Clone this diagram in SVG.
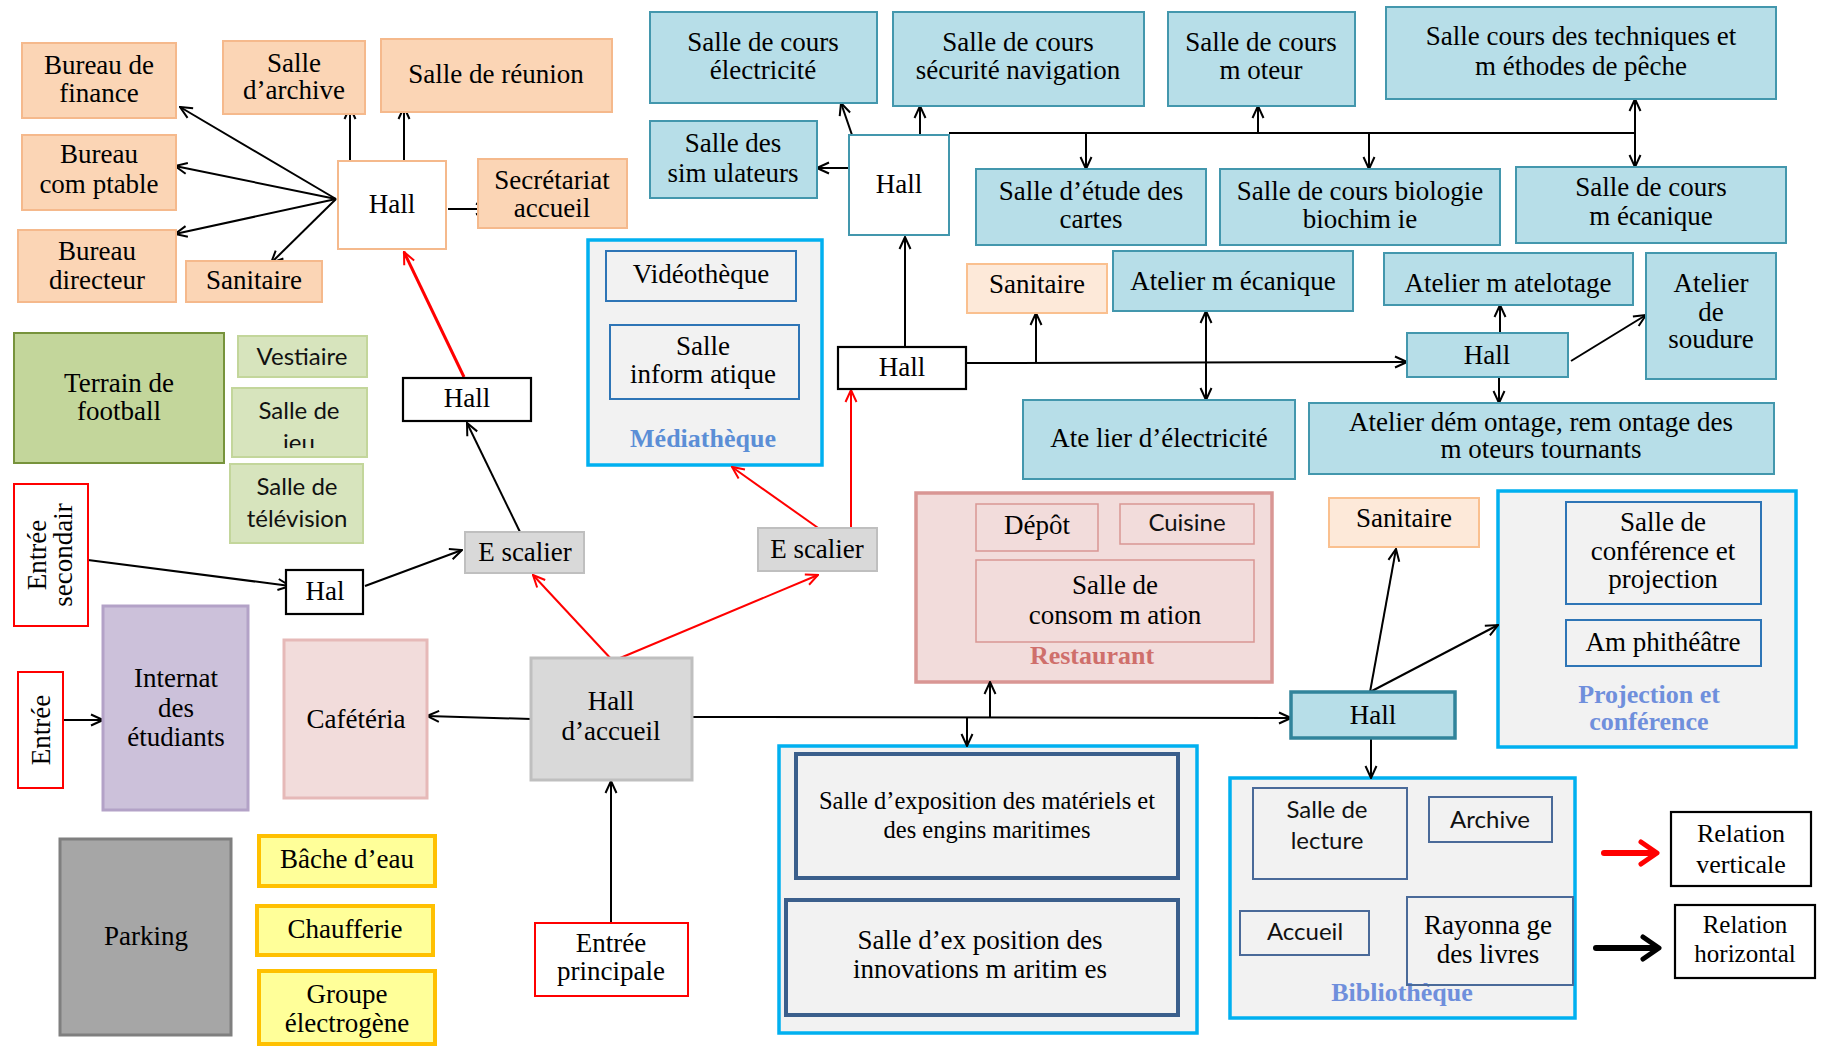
<svg xmlns="http://www.w3.org/2000/svg" width="1821" height="1046" viewBox="0 0 1821 1046">
  <defs>
    <style>
      .t { font-family: "Liberation Serif", "Times New Roman", serif; font-size: 27px; text-anchor: middle; fill: #000; }
      .s { font-family: Lato, "Liberation Sans", sans-serif; font-size: 24px; text-anchor: middle; fill: #111; }
      .g { font-family: "Liberation Serif", "Times New Roman", serif; font-size: 26px; font-weight: bold; text-anchor: middle; }
      .adm { fill: #fbd5b5; stroke: #f5b98c; stroke-width: 2; }
      .san { fill: #fde9d9; stroke: #fac08f; stroke-width: 2; }
      .cls { fill: #b7dee8; stroke: #4397ad; stroke-width: 2; }
      .wb { fill: #fff; stroke: #000; stroke-width: 2.2; }
      .ent { fill: #fff; stroke: #ff0000; stroke-width: 2; }
      .sport { fill: #d7e4bd; stroke: #c3d69b; stroke-width: 2; }
      .esc { fill: #d9d9d9; stroke: #bfbfbf; stroke-width: 2; }
      .tech { fill: #ffff99; stroke: #ffc000; stroke-width: 4; }
      .cont { fill: #f2f2f2; stroke: #00b0f0; stroke-width: 3.5; }
      .inb { fill: #f2f2f2; stroke: #2e75b6; stroke-width: 2; }
      .inl { fill: none; stroke: #4a6a99; stroke-width: 2; }
      .inx { fill: none; stroke: #3b5f8c; stroke-width: 4; }
      .rin { fill: none; stroke: #d99694; stroke-width: 1.5; }
      .c { fill: none; stroke: #000; stroke-width: 2; marker-end: url(#ah); }
      .cd { fill: none; stroke: #000; stroke-width: 2; marker-start: url(#ah); marker-end: url(#ah); }
      .bus { fill: none; stroke: #000; stroke-width: 2; }
      .r { fill: none; stroke: #ff0000; stroke-width: 2; marker-end: url(#ahr); }
      .r3 { stroke-width: 3; }
      .f24 { font-size: 24.5px; }
      .f25 { font-size: 25px; }
      .f26 { font-size: 26px; }
    </style>
    <marker id="ah" viewBox="0 0 14 14" refX="13" refY="7" markerWidth="14" markerHeight="14" markerUnits="userSpaceOnUse" orient="auto-start-reverse">
      <path d="M1,1.5 L13,7 L1,12.5" fill="none" stroke="#000" stroke-width="2"/>
    </marker>
    <marker id="ahr" viewBox="0 0 14 14" refX="13" refY="7" markerWidth="14" markerHeight="14" markerUnits="userSpaceOnUse" orient="auto">
      <path d="M1,1.5 L13,7 L1,12.5" fill="none" stroke="#ff0000" stroke-width="2"/>
    </marker>
    <clipPath id="clipJeu">
      <rect x="232" y="388" width="135" height="60"/>
    </clipPath>
  </defs>

  <rect x="0" y="0" width="1821" height="1046" fill="#fff"/>

  <!-- containers drawn first so inner rooms sit on top -->
  <g id="mediatheque">
    <rect class="cont" x="588" y="240" width="234" height="225"/>
    <text class="g" x="703" y="447" fill="#5b8ed6">Médiathèque</text>
  </g>
  <g id="restaurant">
    <rect x="916" y="493" width="356" height="189" fill="#f2dcdb" stroke="#d99694" stroke-width="3.5"/>
    <text class="g" x="1092" y="664" fill="#cf6f6b">Restaurant</text>
  </g>
  <g id="exposition">
    <rect class="cont" x="779" y="746" width="418" height="287"/>
  </g>
  <g id="projection-conference">
    <rect class="cont" x="1498" y="491" width="298" height="256"/>
    <text class="g" x="1649" y="703" fill="#6f8fdc"><tspan x="1649" y="703">Projection et</tspan><tspan x="1649" y="730">conférence</tspan></text>
  </g>
  <g id="bibliotheque">
    <rect class="cont" x="1230" y="778" width="345" height="240"/>
    <text class="g" x="1402" y="1001" fill="#6f8fdc">Bibliothèque</text>
  </g>

  <!-- connectors -->
  <g id="connectors">
    <!-- administration hall -->
    <path class="c" d="M336,199 L180,107"/>
    <path class="c" d="M336,199 L175,166"/>
    <path class="c" d="M336,199 L175,234"/>
    <path class="c" d="M336,199 L271,263"/>
    <path class="c" d="M350,161 L350,107"/>
    <path class="c" d="M404,161 L404,107"/>
    <path class="c" d="M448,209 L488,209"/>
    <!-- secondary entrance -->
    <path class="c" d="M88,560 L290,586"/>
    <path class="c" d="M365,586 L462,550"/>
    <path class="c" d="M520,532 L467,423"/>
    <!-- main entrance and reception -->
    <path class="c" d="M63,720 L103,720"/>
    <path class="c" d="M531,719 L427,716"/>
    <path class="c" d="M611,923 L611,781"/>
    <path class="c" d="M692,717 L1291,718"/>
    <path class="c" d="M990,717 L990,682"/>
    <path class="c" d="M967,717 L967,746"/>
    <!-- library / conference hall -->
    <path class="c" d="M1370,692 L1396,549"/>
    <path class="c" d="M1370,692 L1498,625"/>
    <path class="c" d="M1371,738 L1371,778"/>
    <!-- workshops -->
    <path class="c" d="M905,347 L905,237"/>
    <path class="c" d="M966,363 L1407,362"/>
    <path class="c" d="M1036,363 L1036,313"/>
    <path class="cd" d="M1206,311 L1206,400"/>
    <path class="c" d="M1500,333 L1500,305"/>
    <path class="c" d="M1571,361 L1646,315"/>
    <path class="c" d="M1499,377 L1499,403"/>
    <!-- classrooms -->
    <path class="c" d="M849,168 L817,168"/>
    <path class="c" d="M852,135 L841,103"/>
    <path class="c" d="M920,135 L920,106"/>
    <path class="bus" d="M949,133 L1635,133"/>
    <path class="c" d="M1258,133 L1258,106"/>
    <path class="c" d="M1086,133 L1086,169"/>
    <path class="c" d="M1369,133 L1369,169"/>
    <path class="cd" d="M1635,99 L1635,167"/>
    <!-- vertical relations (stairs) -->
    <path class="r r3" d="M464,377 L404,252"/>
    <path class="r" d="M613,661 L533,575"/>
    <path class="r" d="M613,661 L818,575"/>
    <path class="r" d="M821,530 L732,467"/>
    <path class="r" d="M851,530 L851,390"/>
  </g>

  <!-- administration -->
  <g id="bureau-finance"><rect class="adm" x="22" y="43" width="154" height="75"/><text class="t"><tspan x="99" y="74">Bureau de</tspan><tspan x="99" y="102">finance</tspan></text></g>
  <g id="salle-archive"><rect class="adm" x="223" y="41" width="142" height="73"/><text class="t"><tspan x="294" y="72">Salle</tspan><tspan x="294" y="99">d’archive</tspan></text></g>
  <g id="salle-reunion"><rect class="adm" x="381" y="39" width="231" height="73"/><text class="t" x="496" y="83">Salle de réunion</text></g>
  <g id="bureau-comptable"><rect class="adm" x="22" y="135" width="154" height="75"/><text class="t"><tspan x="99" y="163">Bureau</tspan><tspan x="99" y="193">com ptable</tspan></text></g>
  <g id="bureau-directeur"><rect class="adm" x="18" y="230" width="158" height="72"/><text class="t"><tspan x="97" y="260">Bureau</tspan><tspan x="97" y="289">directeur</tspan></text></g>
  <g id="sanitaire-admin"><rect class="adm" x="186" y="261" width="136" height="41"/><text class="t" x="254" y="289">Sanitaire</text></g>
  <g id="hall-admin"><rect x="338" y="161" width="108" height="88" fill="#fff" stroke="#f5b98c" stroke-width="2"/><text class="t" x="392" y="213">Hall</text></g>
  <g id="secretariat"><rect class="adm" x="478" y="159" width="149" height="69"/><text class="t"><tspan x="552" y="189">Secrétariat</tspan><tspan x="552" y="217">accueil</tspan></text></g>

  <!-- classrooms -->
  <g id="cours-electricite"><rect class="cls" x="650" y="12" width="227" height="91"/><text class="t"><tspan x="763" y="51">Salle de cours</tspan><tspan x="763" y="79">électricité</tspan></text></g>
  <g id="cours-securite"><rect class="cls" x="893" y="12" width="251" height="94"/><text class="t"><tspan x="1018" y="51">Salle de cours</tspan><tspan x="1018" y="79">sécurité navigation</tspan></text></g>
  <g id="cours-moteur"><rect class="cls" x="1168" y="12" width="187" height="94"/><text class="t"><tspan x="1261" y="51">Salle de cours</tspan><tspan x="1261" y="79">m oteur</tspan></text></g>
  <g id="cours-peche"><rect class="cls" x="1386" y="7" width="390" height="92"/><text class="t"><tspan x="1581" y="45">Salle cours des techniques et</tspan><tspan x="1581" y="75">m éthodes de pêche</tspan></text></g>
  <g id="salle-simulateurs"><rect class="cls" x="650" y="121" width="167" height="77"/><text class="t"><tspan x="733" y="152">Salle des</tspan><tspan x="733" y="182">sim ulateurs</tspan></text></g>
  <g id="hall-cours"><rect x="849" y="135" width="100" height="100" fill="#fff" stroke="#4397ad" stroke-width="2"/><text class="t" x="899" y="193">Hall</text></g>
  <g id="etude-cartes"><rect class="cls" x="976" y="169" width="230" height="76"/><text class="t"><tspan x="1091" y="200">Salle d’étude des</tspan><tspan x="1091" y="228">cartes</tspan></text></g>
  <g id="cours-biologie"><rect class="cls" x="1220" y="169" width="280" height="76"/><text class="t"><tspan x="1360" y="200">Salle de cours biologie</tspan><tspan x="1360" y="228">biochim ie</tspan></text></g>
  <g id="cours-mecanique"><rect class="cls" x="1516" y="167" width="270" height="76"/><text class="t"><tspan x="1651" y="196">Salle de cours</tspan><tspan x="1651" y="225">m écanique</tspan></text></g>

  <!-- workshops -->
  <g id="sanitaire-ateliers"><rect class="san" x="967" y="264" width="140" height="49"/><text class="t" x="1037" y="293">Sanitaire</text></g>
  <g id="atelier-mecanique"><rect class="cls" x="1113" y="251" width="240" height="60"/><text class="t" x="1233" y="290">Atelier m écanique</text></g>
  <g id="atelier-matelotage"><rect class="cls" x="1384" y="253" width="249" height="52"/><text class="t" x="1508" y="292">Atelier m atelotage</text></g>
  <g id="atelier-soudure"><rect class="cls" x="1646" y="253" width="130" height="126"/><text class="t"><tspan x="1711" y="292">Atelier</tspan><tspan x="1711" y="321">de</tspan><tspan x="1711" y="348">soudure</tspan></text></g>
  <g id="hall-ateliers"><rect class="cls" x="1407" y="333" width="161" height="44"/><text class="t" x="1487" y="364">Hall</text></g>
  <g id="atelier-electricite"><rect class="cls" x="1023" y="400" width="272" height="79"/><text class="t" x="1159" y="447">Ate lier d’électricité</text></g>
  <g id="atelier-demontage"><rect class="cls" x="1309" y="403" width="465" height="71"/><text class="t"><tspan x="1541" y="431">Atelier dém ontage, rem ontage des</tspan><tspan x="1541" y="458">m oteurs tournants</tspan></text></g>
  <g id="hall-etage"><rect class="wb" x="838" y="347" width="128" height="42"/><text class="t" x="902" y="376">Hall</text></g>

  <!-- media library rooms -->
  <g id="videotheque"><rect class="inb" x="606" y="251" width="190" height="50"/><text class="t" x="701" y="283">Vidéothèque</text></g>
  <g id="salle-informatique"><rect class="inb" x="610" y="325" width="189" height="74"/><text class="t"><tspan x="703" y="355">Salle</tspan><tspan x="703" y="383">inform atique</tspan></text></g>

  <!-- sports and leisure -->
  <g id="terrain-football"><rect x="14" y="333" width="210" height="130" fill="#c3d69b" stroke="#77933c" stroke-width="2"/><text class="t"><tspan x="119" y="392">Terrain de</tspan><tspan x="119" y="420">football</tspan></text></g>
  <g id="vestiaire"><rect class="sport" x="238" y="336" width="129" height="41"/><text class="s" x="302" y="365">Vestiaire</text></g>
  <g id="salle-jeu"><rect class="sport" x="232" y="388" width="135" height="69"/><text class="s" x="299" y="419">Salle de</text><text class="s" x="299" y="451" clip-path="url(#clipJeu)">jeu</text></g>
  <g id="salle-television"><rect class="sport" x="230" y="464" width="133" height="79"/><text class="s"><tspan x="297" y="495">Salle de</tspan><tspan x="297" y="527">télévision</tspan></text></g>

  <!-- circulation -->
  <g id="hall-escalier"><rect class="wb" x="403" y="378" width="128" height="43"/><text class="t" x="467" y="407">Hall</text></g>
  <g id="entree-secondaire"><rect class="ent" x="14" y="484" width="74" height="142"/><text class="t" transform="translate(51,555) rotate(-90)"><tspan x="0" y="-5">Entrée</tspan><tspan x="0" y="21">secondair</tspan></text></g>
  <g id="hal"><rect class="wb" x="286" y="570" width="77" height="44"/><text class="t" x="325" y="600">Hal</text></g>
  <g id="escalier-1"><rect class="esc" x="465" y="532" width="119" height="41"/><text class="t" x="525" y="561">E scalier</text></g>
  <g id="escalier-2"><rect class="esc" x="758" y="528" width="119" height="43"/><text class="t" x="817" y="558">E scalier</text></g>
  <g id="entree"><rect class="ent" x="18" y="672" width="45" height="116"/><text class="t" transform="translate(40,730) rotate(-90)" x="0" y="10">Entrée</text></g>
  <g id="internat"><rect x="103" y="606" width="145" height="204" fill="#ccc1da" stroke="#b3a2c7" stroke-width="3"/><text class="t"><tspan x="176" y="687">Internat</tspan><tspan x="176" y="717">des</tspan><tspan x="176" y="746">étudiants</tspan></text></g>
  <g id="cafeteria"><rect x="284" y="640" width="143" height="158" fill="#f2dcdb" stroke="#e6b9b8" stroke-width="3"/><text class="t" x="356" y="728">Cafétéria</text></g>
  <g id="hall-accueil"><rect x="531" y="658" width="161" height="122" fill="#d9d9d9" stroke="#bfbfbf" stroke-width="3"/><text class="t"><tspan x="611" y="710">Hall</tspan><tspan x="611" y="740">d’accueil</tspan></text></g>
  <g id="entree-principale"><rect class="ent" x="535" y="923" width="153" height="73"/><text class="t"><tspan x="611" y="952">Entrée</tspan><tspan x="611" y="980">principale</tspan></text></g>

  <!-- technical areas -->
  <g id="parking"><rect x="60" y="839" width="171" height="196" fill="#a6a6a6" stroke="#7f7f7f" stroke-width="3"/><text class="t" x="146" y="945">Parking</text></g>
  <g id="bache-eau"><rect class="tech" x="259" y="836" width="176" height="50"/><text class="t" x="347" y="868">Bâche d’eau</text></g>
  <g id="chaufferie"><rect class="tech" x="257" y="906" width="176" height="49"/><text class="t" x="345" y="938">Chaufferie</text></g>
  <g id="groupe-electrogene"><rect class="tech" x="259" y="971" width="176" height="73"/><text class="t"><tspan x="347" y="1003">Groupe</tspan><tspan x="347" y="1032">électrogène</tspan></text></g>

  <!-- restaurant rooms -->
  <g id="depot"><rect class="rin" x="976" y="504" width="122" height="47"/><text class="t" x="1037" y="534">Dépôt</text></g>
  <g id="cuisine"><rect class="rin" x="1120" y="504" width="134" height="40"/><text class="s" x="1187" y="531">Cuisine</text></g>
  <g id="salle-consommation"><rect class="rin" x="976" y="560" width="278" height="82"/><text class="t"><tspan x="1115" y="594">Salle de</tspan><tspan x="1115" y="624">consom m ation</tspan></text></g>

  <!-- exhibition rooms -->
  <g id="expo-materiels"><rect class="inx" x="796" y="754" width="382" height="124"/><text class="t f24"><tspan x="987" y="809">Salle d’exposition des matériels et</tspan><tspan x="987" y="838">des engins maritimes</tspan></text></g>
  <g id="expo-innovations"><rect class="inx" x="786" y="900" width="392" height="115"/><text class="t"><tspan x="980" y="949">Salle d’ex position des</tspan><tspan x="980" y="978">innovations m aritim es</tspan></text></g>

  <!-- library and conference -->
  <g id="sanitaire-bib"><rect class="san" x="1329" y="498" width="150" height="49"/><text class="t" x="1404" y="527">Sanitaire</text></g>
  <g id="hall-bib"><rect x="1291" y="692" width="164" height="46" fill="#b7dee8" stroke="#31849b" stroke-width="3.5"/><text class="t" x="1373" y="724">Hall</text></g>
  <g id="salle-conference"><rect class="inb" x="1566" y="502" width="195" height="102"/><text class="t"><tspan x="1663" y="531">Salle de</tspan><tspan x="1663" y="560">conférence et</tspan><tspan x="1663" y="588">projection</tspan></text></g>
  <g id="amphitheatre"><rect class="inb" x="1566" y="620" width="195" height="46"/><text class="t" x="1663" y="651">Am phithéâtre</text></g>
  <g id="salle-lecture"><rect class="inl" x="1253" y="788" width="154" height="91"/><text class="s"><tspan x="1327" y="818">Salle de</tspan><tspan x="1327" y="849">lecture</tspan></text></g>
  <g id="archive"><rect class="inl" x="1429" y="797" width="123" height="45"/><text class="s" x="1490" y="828">Archive</text></g>
  <g id="accueil"><rect class="inl" x="1240" y="911" width="129" height="44"/><text class="s" x="1305" y="940">Accueil</text></g>
  <g id="rayonnage"><rect class="inl" x="1407" y="897" width="166" height="88"/><text class="t"><tspan x="1488" y="934">Rayonna ge</tspan><tspan x="1488" y="963">des livres</tspan></text></g>

  <!-- legend -->
  <g id="legend-vertical">
    <path d="M1604,853 L1652,853" stroke="#ff0000" stroke-width="6" fill="none" stroke-linecap="round"/>
    <path d="M1641,842 L1657,853 L1641,864" stroke="#ff0000" stroke-width="5" fill="none" stroke-linecap="round" stroke-linejoin="round"/>
    <rect class="wb" x="1671" y="812" width="140" height="74"/>
    <text class="t f26"><tspan x="1741" y="842">Relation</tspan><tspan x="1741" y="873">verticale</tspan></text>
  </g>
  <g id="legend-horizontal">
    <path d="M1596,948 L1654,948" stroke="#000" stroke-width="6" fill="none" stroke-linecap="round"/>
    <path d="M1643,937 L1659,948 L1643,959" stroke="#000" stroke-width="5" fill="none" stroke-linecap="round" stroke-linejoin="round"/>
    <rect class="wb" x="1675" y="905" width="140" height="73"/>
    <text class="t f25"><tspan x="1745" y="933">Relation</tspan><tspan x="1745" y="962">horizontal</tspan></text>
  </g>
</svg>
